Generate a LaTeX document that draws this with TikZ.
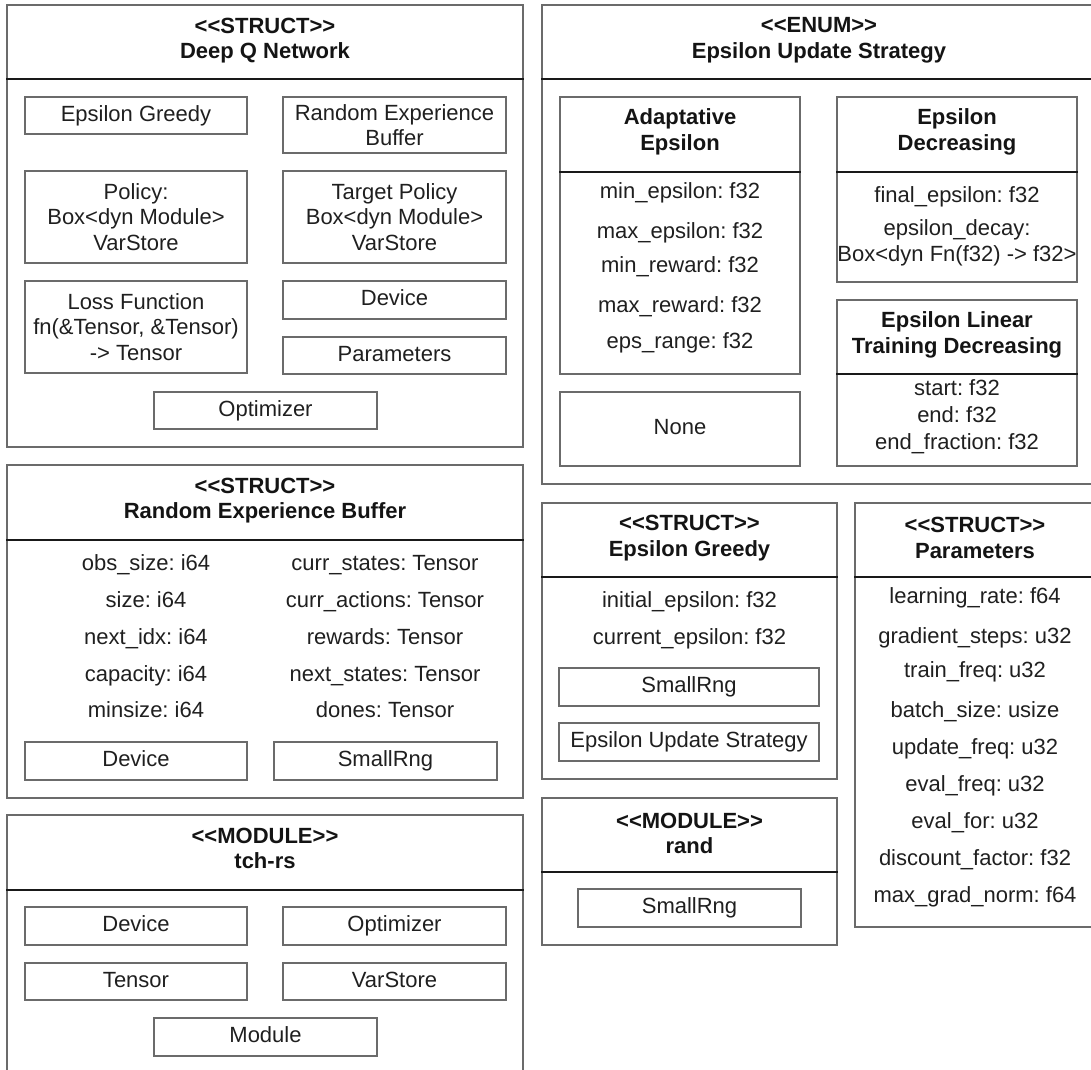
\documentclass[tikz,border=0pt]{standalone}
\usepackage{fontspec}
\setmainfont{Liberation Sans}
\frenchspacing
\tikzset{
  every node/.style={font=\fontsize{22}{25.5}\selectfont, text=black!88},
  frame/.style={draw=black!58, line width=2pt, inner sep=0pt},
  itembox/.style={draw=black!58, line width=2pt, align=center, inner sep=0pt},
  oneline/.style={text height=16pt, text depth=4.5pt},
  heading/.style={font=\fontsize{22}{25.5}\selectfont\bfseries, align=center, text=black!92},
  field/.style={align=center, oneline},
  divider/.style={draw=black!90, line width=1.3pt},
}
% \umlrect{name}{x1}{y1}{x2}{y2}{style}{text}: a box given by its corners
\newcommand\umlrect[7]{%
  \node[#6, minimum width={#4-#2}, minimum height={#5-#3}] (#1) at ({(#2+#4)/2},{(#3+#5)/2}) {#7};}
% stereotype brackets, kept apart so they do not join into guillemets
\newcommand\stereo[1]{<{}<#1>{}>}
\begin{document}
\begin{tikzpicture}[x=1pt, y=-1pt]
\useasboundingbox (0,0) rectangle (1091,1069);
\clip (0,0) rectangle (1091,1069);

% ---------- Deep Q Network ----------
\umlrect{dqn}{7}{5}{523}{447}{frame}{}
\node[heading] (dqnT) at (265,40.5) {\stereo{STRUCT}\\Deep Q Network};
\draw[divider] (dqn.west |- 0,79) -- (dqn.east |- 0,79);
\umlrect{dqnEG}{25}{97}{247}{134}{itembox,oneline}{Epsilon Greedy}
\umlrect{dqnREB}{283}{97}{506}{153}{itembox}{Random Experience\\Buffer}
\umlrect{dqnPol}{25}{171}{247}{263}{itembox}{Policy:\\Box<dyn Module>\\VarStore}
\umlrect{dqnTP}{283}{171}{506}{263}{itembox}{Target Policy\\Box<dyn Module>\\VarStore}
\umlrect{dqnLoss}{25}{281}{247}{373}{itembox}{Loss Function\\fn(\&Tensor, \&Tensor)\\-> Tensor}
\umlrect{dqnDev}{283}{281}{506}{319}{itembox,oneline}{Device}
\umlrect{dqnPar}{283}{337}{506}{374}{itembox,oneline}{Parameters}
\umlrect{dqnOpt}{154}{392}{377}{429}{itembox,oneline}{Optimizer}

% ---------- Epsilon Update Strategy ----------
\umlrect{eus}{542}{5}{1096}{484}{frame}{}
\node[heading] (eusT) at (819,40.5) {\stereo{ENUM}\\Epsilon Update Strategy};
\draw[divider] (eus.west |- 0,79) -- (eus.east |- 0,79);

\umlrect{ade}{560}{97}{800}{374}{frame}{}
\node[heading] (adeT) at (680,132) {Adaptative\\Epsilon};
\draw[divider] (ade.west |- 0,172) -- (ade.east |- 0,172);
\node[field] (ade1) at (680,193) {min\_epsilon: f32};
\node[field] (ade2) at (680,233) {max\_epsilon: f32};
\node[field] (ade3) at (680,267) {min\_reward: f32};
\node[field] (ade4) at (680,307) {max\_reward: f32};
\node[field] (ade5) at (680,343) {eps\_range: f32};

\umlrect{none}{560}{392}{800}{466}{itembox,oneline}{None}

\umlrect{edec}{837}{97}{1077}{282}{frame}{}
\node[heading] (edecT) at (957,132) {Epsilon\\Decreasing};
\draw[divider] (edec.west |- 0,172) -- (edec.east |- 0,172);
\node[field] (edec1) at (957,197) {final\_epsilon: f32};
\node[field] (edec2) at (957,230) {epsilon\_decay:};
\node[field] (edec3) at (957,256) {Box<dyn Fn(f32) -> f32>};

\umlrect{eltd}{837}{300}{1077}{466}{frame}{}
\node[heading] (eltdT) at (957,335) {Epsilon Linear\\Training Decreasing};
\draw[divider] (eltd.west |- 0,374) -- (eltd.east |- 0,374);
\node[field] (eltd1) at (957,390) {start: f32};
\node[field] (eltd2) at (957,417) {end: f32};
\node[field] (eltd3) at (957,444) {end\_fraction: f32};

% ---------- Random Experience Buffer ----------
\umlrect{reb}{7}{465}{523}{798}{frame}{}
\node[heading] (rebT) at (265,500.5) {\stereo{STRUCT}\\Random Experience Buffer};
\draw[divider] (reb.west |- 0,540) -- (reb.east |- 0,540);
\node[field] (rebL1) at (146,565) {obs\_size: i64};
\node[field] (rebL2) at (146,602) {size: i64};
\node[field] (rebL3) at (146,639) {next\_idx: i64};
\node[field] (rebL4) at (146,676) {capacity: i64};
\node[field] (rebL5) at (146,712) {minsize: i64};
\node[field] (rebR1) at (385,565) {curr\_states: Tensor};
\node[field] (rebR2) at (385,602) {curr\_actions: Tensor};
\node[field] (rebR3) at (385,639) {rewards: Tensor};
\node[field] (rebR4) at (385,676) {next\_states: Tensor};
\node[field] (rebR5) at (385,712) {dones: Tensor};
\umlrect{rebDev}{25}{742}{247}{780}{itembox,oneline}{Device}
\umlrect{rebRng}{274}{742}{497}{780}{itembox,oneline}{SmallRng}

% ---------- Epsilon Greedy ----------
\umlrect{eg}{542}{503}{837}{779}{frame}{}
\node[heading] (egT) at (689.5,538) {\stereo{STRUCT}\\Epsilon Greedy};
\draw[divider] (eg.west |- 0,577) -- (eg.east |- 0,577);
\node[field] (eg1) at (689.5,602) {initial\_epsilon: f32};
\node[field] (eg2) at (689.5,639) {current\_epsilon: f32};
\umlrect{egRng}{559}{668}{819}{706}{itembox,oneline}{SmallRng}
\umlrect{egEus}{559}{723}{819}{761}{itembox,oneline}{Epsilon Update Strategy}

% ---------- Parameters ----------
\umlrect{par}{855}{503}{1096}{927}{frame}{}
\node[heading] (parT) at (975,538) {\stereo{STRUCT}\\Parameters};
\draw[divider] (par.west |- 0,577) -- (par.east |- 0,577);
\node[field] (par1) at (975,598) {learning\_rate: f64};
\node[field] (par2) at (975,638) {gradient\_steps: u32};
\node[field] (par3) at (975,672) {train\_freq: u32};
\node[field] (par4) at (975,712) {batch\_size: usize};
\node[field] (par5) at (975,749) {update\_freq: u32};
\node[field] (par6) at (975,786) {eval\_freq: u32};
\node[field] (par7) at (975,823) {eval\_for: u32};
\node[field] (par8) at (975,860) {discount\_factor: f32};
\node[field] (par9) at (975,897) {max\_grad\_norm: f64};

% ---------- rand ----------
\umlrect{rnd}{542}{798}{837}{945}{frame}{}
\node[heading] (rndT) at (689.5,833.5) {\stereo{MODULE}\\rand};
\draw[divider] (rnd.west |- 0,872) -- (rnd.east |- 0,872);
\umlrect{rndRng}{578}{889}{801}{927}{itembox,oneline}{SmallRng}

% ---------- tch-rs ----------
\umlrect{tch}{7}{815}{523}{1085}{frame}{}
\node[heading] (tchT) at (265,848.5) {\stereo{MODULE}\\tch-rs};
\draw[divider] (tch.west |- 0,890) -- (tch.east |- 0,890);
\umlrect{tchDev}{25}{907}{247}{945}{itembox,oneline}{Device}
\umlrect{tchOpt}{283}{907}{506}{945}{itembox,oneline}{Optimizer}
\umlrect{tchTen}{25}{963}{247}{1000}{itembox,oneline}{Tensor}
\umlrect{tchVar}{283}{963}{506}{1000}{itembox,oneline}{VarStore}
\umlrect{tchMod}{154}{1018}{377}{1056}{itembox,oneline}{Module}
\end{tikzpicture}
\end{document}
